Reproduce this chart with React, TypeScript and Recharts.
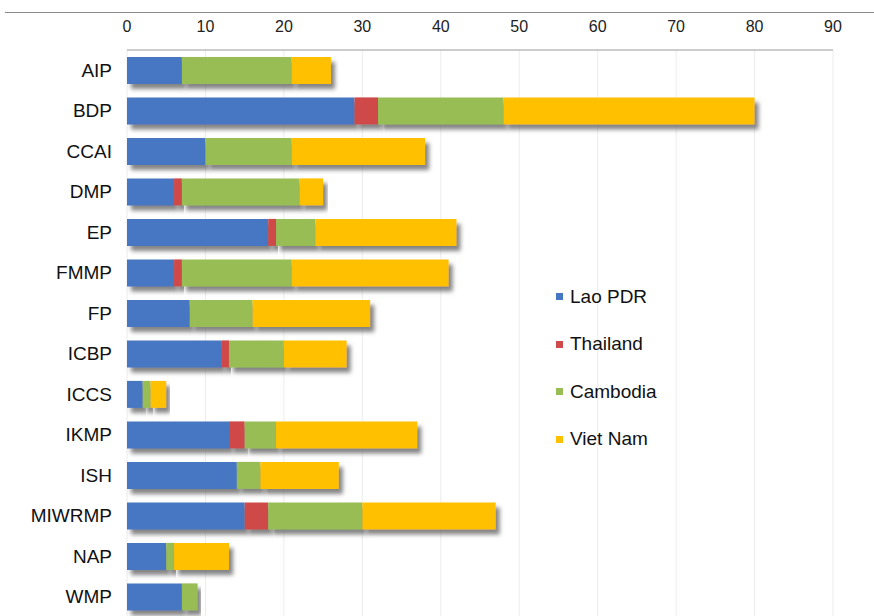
import { FC } from 'react'
import { Bar, BarChart, CartesianGrid, Rectangle, XAxis, YAxis } from 'recharts'

// projects, with contribution by country
const projects = ['AIP', 'BDP', 'CCAI', 'DMP', 'EP', 'FMMP', 'FP', 'ICBP', 'ICCS', 'IKMP', 'ISH', 'MIWRMP', 'NAP', 'WMP']
const laoPdr = [7, 29, 10, 6, 18, 6, 8, 12, 2, 13, 14, 15, 5, 7]
const thailand = [0, 3, 0, 1, 1, 1, 0, 1, 0, 2, 0, 3, 0, 0]
const cambodia = [14, 16, 11, 15, 5, 14, 8, 7, 1, 4, 3, 12, 1, 2]
const vietNam = [5, 32, 17, 3, 18, 20, 15, 8, 2, 18, 10, 17, 7, 0]
const xTicks = [0, 10, 20, 30, 40, 50, 60, 70, 80, 90]

const series = [
  {key: 'lao', name: 'Lao PDR', color: '#4677c2', values: laoPdr},
  {key: 'thai', name: 'Thailand', color: '#cf4a4a', values: thailand},
  {key: 'cam', name: 'Cambodia', color: '#98bd55', values: cambodia},
  {key: 'vn', name: 'Viet Nam', color: '#ffc000', values: vietNam},
]

const data = projects.map((p, i) => {
  const row: Record<string, string | number> = {project: p}
  series.forEach(s => { row[s.key] = s.values[i] })
  return row
})

const font = '"Liberation Sans", Arial, sans-serif'

const ShadowBar = (props: any) => {
  if (!props.width || props.width <= 0) return null
  return <Rectangle {...props} filter="url(#barShadow)"/>
}

const LegendBox: FC = () => (
  <div style={{position: 'absolute', left: 556, top: 273, fontFamily: font, fontSize: 19, color: '#111'}}>
    {series.map(s => (
      <div key={s.key} style={{display: 'flex', alignItems: 'center', height: 47.5}}>
        <span style={{width: 7, height: 7, background: s.color, marginRight: 7}}/>
        <span>{s.name}</span>
      </div>
    ))}
  </div>
)

export default function App() {
  return (
    <div style={{position: 'fixed', left: 0, top: 0, width: 874, height: 616, overflow: 'hidden', background: '#fff'}}>
      <svg width={0} height={0} style={{position: 'absolute'}}>
        <defs>
          <filter id="barShadow" x="-10%" y="-30%" width="130%" height="190%">
            <feDropShadow dx={4} dy={5} stdDeviation={2} floodColor="#666" floodOpacity={0.8}/>
          </filter>
        </defs>
      </svg>
      <div style={{position: 'absolute', left: 5, right: 0, top: 12, borderTop: '1px solid #8a8a8a'}}/>
      <BarChart width={874} height={620} data={data} layout="vertical"
                margin={{top: 20, right: 41, bottom: 3, left: 0}} barCategoryGap="17%">
        <CartesianGrid horizontal={false} stroke="#ececec"/>
        <XAxis type="number" orientation="top" domain={[0, 90]} ticks={xTicks} height={30}
               axisLine={{stroke: '#9a9a9a'}} tickLine={false} tickMargin={12}
               tick={{fontFamily: font, fontSize: 16, fill: '#222'}}/>
        <YAxis type="category" dataKey="project" width={127} axisLine={false} tickLine={false} tickMargin={9}
               tick={{fontFamily: font, fontSize: 19, fill: '#111'}}/>
        {series.map(s => (
          <Bar key={s.key} dataKey={s.key} name={s.name} stackId="a" fill={s.color}
               shape={ShadowBar} isAnimationActive={false}/>
        ))}
      </BarChart>
      <LegendBox/>
    </div>
  )
}
